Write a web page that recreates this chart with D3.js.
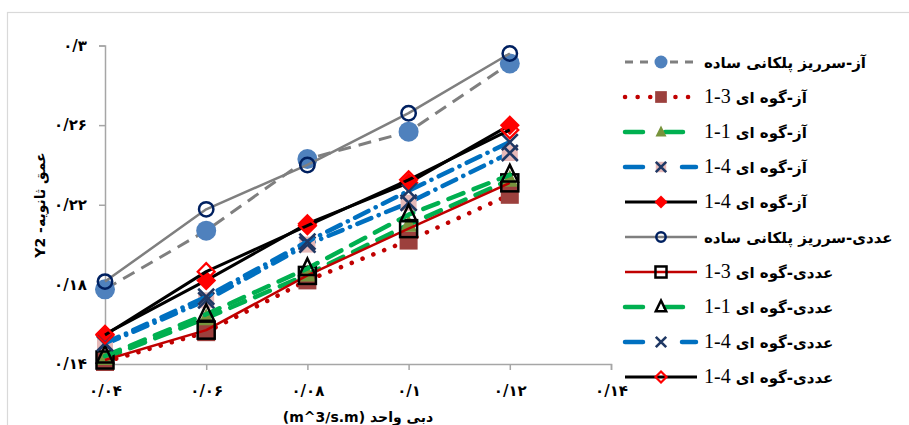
<!DOCTYPE html>
<html><head><meta charset="utf-8">
<script src="https://cdn.jsdelivr.net/npm/d3@7/dist/d3.min.js"></script>
<style>body{margin:0;background:#fff}svg{display:block}</style>
</head><body>
<svg id="c" width="909" height="425"></svg>
<script>
// ---------- data ----------
const xValues = [0.04, 0.06, 0.08, 0.1, 0.12];
const seriesNames = [
  "آز-سرریز پلکانی ساده",
  "آز-گوه ای|1-3",
  "آز-گوه ای|1-1",
  "آز-گوه ای|1-4",
  "آز-گوه ای|1-4",
  "عددی-سرریز پلکانی ساده",
  "عددی-گوه ای|1-3",
  "عددی-گوه ای|1-1",
  "عددی-گوه ای|1-4",
  "عددی-گوه ای|1-4"
];
const labSimple   = [0.1775, 0.207, 0.243, 0.2567, 0.291];
const labWedge13  = [0.141, 0.156, 0.182, 0.202, 0.225];
const labWedge11  = [0.143, 0.163, 0.185, 0.210, 0.2325];
const labWedge14a = [0.150, 0.172, 0.200, 0.221, 0.246];
const labWedge14b = [0.155, 0.182, 0.2105, 0.231, 0.260];
const numSimple   = [0.1814, 0.2177, 0.240, 0.266, 0.296];
const numWedge13  = [0.142, 0.157, 0.1845, 0.208, 0.231];
const numWedge11  = [0.144, 0.165, 0.188, 0.215, 0.235];
const numWedge14a = [0.1505, 0.1738, 0.2015, 0.227, 0.2515];
const numWedge14b = [0.1546, 0.1864, 0.2095, 0.2325, 0.2576];
const seriesValues = [labSimple, labWedge13, labWedge11, labWedge14a, labWedge14b,
                      numSimple, numWedge13, numWedge11, numWedge14a, numWedge14b];
const xTicks = [0.04, 0.06, 0.08, 0.1, 0.12, 0.14];
const xTickLabels = ["۰/۰۴", "۰/۰۶", "۰/۰۸", "۰/۱", "۰/۱۲", "۰/۱۴"];
const yTicks = [0.14, 0.18, 0.22, 0.26, 0.30];
const yTickLabels = ["۰/۱۴", "۰/۱۸", "۰/۲۲", "۰/۲۶", "۰/۳"];
const xTitle = "دبی واحد (m^3/s.m)";
const yTitle = "عمق ثانویه- Y2";

// ---------- styles ----------
const styles = [
  {stroke:"#7f7f7f", width:3, dash:"13,8", legDash:"8,7", cap:"butt", marker:"circleFill"},
  {stroke:"#c00000", width:4.5, dash:"0.1,11.5", legDash:"0.1,12.5", cap:"round", marker:"squareFill"},
  {stroke:"#00b050", width:4.5, dash:"16,11", legDash:"18,22", cap:"round", marker:"triFill"},
  {stroke:"#0070c0", width:4.5, dash:"15,8,0.1,8", legDash:"18,39,14", cap:"round", marker:"xPink"},
  {stroke:"#000000", width:3, dash:null, cap:"butt", marker:"diamondFill"},
  {stroke:"#7f7f7f", width:2.5, dash:null, cap:"butt", marker:"circleOpen"},
  {stroke:"#c00000", width:2.5, dash:null, cap:"butt", marker:"squareOpen"},
  {stroke:"#00b050", width:4.5, dash:"16,11", legDash:"18,22", cap:"round", marker:"triOpen"},
  {stroke:"#0070c0", width:4.5, dash:"15,8,0.1,8", legDash:"18,39,14", cap:"round", marker:"x"},
  {stroke:"#000000", width:3, dash:null, cap:"butt", marker:"diamondOpen"}
];

const svg = d3.select("#c");

// chart border
svg.append("rect").attr("x",7.5).attr("y",12.5).attr("width",1000).attr("height",1000)
  .attr("fill","none").attr("stroke","#d9d9d9").attr("stroke-width",1.2);

const x = d3.scaleLinear().domain([0.04, 0.14]).range([105, 611]);
const y = d3.scaleLinear().domain([0.14, 0.30]).range([364, 45.5]);

// axes
const xAxis = d3.axisBottom(x).tickValues(xTicks).tickSize(6)
  .tickFormat((d,i)=>xTickLabels[i]);
const yAxis = d3.axisLeft(y).tickValues(yTicks).tickSize(6)
  .tickFormat((d,i)=>yTickLabels[i]);
const gx = svg.append("g").attr("transform","translate(0,364)").call(xAxis);
const gy = svg.append("g").attr("transform","translate(105,0)").call(yAxis);
[gx, gy].forEach(g=>{
  g.select(".domain").attr("stroke","#a6a6a6").attr("stroke-width",1.5);
  g.selectAll(".tick line").attr("stroke","#a6a6a6").attr("stroke-width",1.5);
  g.selectAll(".tick text").attr("fill","#000").attr("font-family","'DejaVu Sans',sans-serif")
    .attr("font-weight","bold").attr("font-size",15);
});
gx.selectAll(".tick text").attr("y",21).attr("dy","0.71em");
gy.selectAll(".tick text").attr("x",-18);

// axis titles
svg.append("text").attr("x",358).attr("y",422).attr("text-anchor","middle")
  .attr("direction","rtl").attr("font-family","'DejaVu Sans',sans-serif").attr("font-weight","bold")
  .attr("font-size",14).text(xTitle);
svg.append("text").attr("transform","translate(45,205) rotate(-90)").attr("text-anchor","middle")
  .attr("direction","rtl").attr("font-family","'DejaVu Sans',sans-serif").attr("font-weight","bold")
  .attr("font-size",14).text(yTitle);

// markers
function drawMarker(g, type, cx, cy, s) {
  const h = s/2;
  switch(type){
    case "circleFill":
      g.append("circle").attr("cx",cx).attr("cy",cy).attr("r",h).attr("fill","#4f81bd"); break;
    case "circleOpen":
      g.append("circle").attr("cx",cx).attr("cy",cy).attr("r",h*0.72).attr("fill","none")
        .attr("stroke","#002060").attr("stroke-width",2.5); break;
    case "squareFill":
      g.append("rect").attr("x",cx-h*0.9).attr("y",cy-h*0.9).attr("width",s*0.9).attr("height",s*0.9)
        .attr("fill","#9c403d"); break;
    case "squareOpen":
      g.append("rect").attr("x",cx-h*0.85).attr("y",cy-h*0.85).attr("width",s*0.85).attr("height",s*0.85)
        .attr("fill","none").attr("stroke","#000").attr("stroke-width",2.5); break;
    case "triFill":
      g.append("path").attr("d",`M${cx},${cy-h}L${cx+h*0.85},${cy+h*0.7}L${cx-h*0.85},${cy+h*0.7}Z`)
        .attr("fill","#77933c"); break;
    case "triOpen":
      g.append("path").attr("d",`M${cx},${cy-h}L${cx+h*0.8},${cy+h*0.65}L${cx-h*0.8},${cy+h*0.65}Z`)
        .attr("fill","none").attr("stroke","#000").attr("stroke-width",2.5).attr("stroke-linejoin","miter"); break;
    case "xPink":
      g.append("rect").attr("x",cx-h*0.8).attr("y",cy-h*0.8).attr("width",s*0.8).attr("height",s*0.8)
        .attr("fill","#e6b9b8");
      // fallthrough
    case "x": {
      const k = h*0.8;
      g.append("path").attr("d",`M${cx-k},${cy-k}L${cx+k},${cy+k}M${cx+k},${cy-k}L${cx-k},${cy+k}`)
        .attr("stroke","#1f3864").attr("stroke-width",2.6).attr("fill","none"); break;
    }
    case "diamondFill":
      g.append("path").attr("d",`M${cx},${cy-h}L${cx+h},${cy}L${cx},${cy+h}L${cx-h},${cy}Z`).attr("fill","#ff0000"); break;
    case "diamondOpen":
      g.append("path").attr("d",`M${cx},${cy-h*0.85}L${cx+h*0.85},${cy}L${cx},${cy+h*0.85}L${cx-h*0.85},${cy}Z`)
        .attr("fill","none").attr("stroke","#ff0000").attr("stroke-width",2.2); break;
  }
}

// series
const line = d3.line().x((d,i)=>x(xValues[i])).y(d=>y(d));
seriesValues.forEach((vals, si)=>{
  const st = styles[si];
  const g = svg.append("g");
  const p = g.append("path").attr("d", line(vals)).attr("fill","none")
    .attr("stroke", st.stroke).attr("stroke-width", st.width)
    .attr("stroke-linecap", st.cap).attr("stroke-linejoin","round");
  if (st.dash) p.attr("stroke-dasharray", st.dash);
  vals.forEach((v,i)=>drawMarker(g, st.marker, x(xValues[i]), y(v), 20));
});

// legend
const legY = d3.scaleLinear().domain([0, 9]).range([62, 377]);
seriesNames.forEach((name, si)=>{
  const st = styles[si];
  const cy = legY(si);
  const g = svg.append("g");
  const p = g.append("line").attr("x1",625).attr("x2",697).attr("y1",cy).attr("y2",cy)
    .attr("stroke",st.stroke).attr("stroke-width",st.width).attr("stroke-linecap",st.cap);
  if (st.legDash) p.attr("stroke-dasharray", st.legDash);
  drawMarker(g, st.marker, 661, cy, 13);
  const parts = name.split("|");
  const t = g.append("text").attr("x",704).attr("y",cy+6).attr("direction","rtl")
    .attr("text-anchor","end").attr("fill","#000");
  t.append("tspan").attr("font-family","'DejaVu Sans',sans-serif").attr("font-weight","bold")
    .attr("font-size",15).text(parts[0]);
  if (parts[1]) t.append("tspan").attr("font-family","'Liberation Serif',serif")
    .attr("font-size",20).text(" \u200E" + parts[1]);
});
</script>
</body></html>
